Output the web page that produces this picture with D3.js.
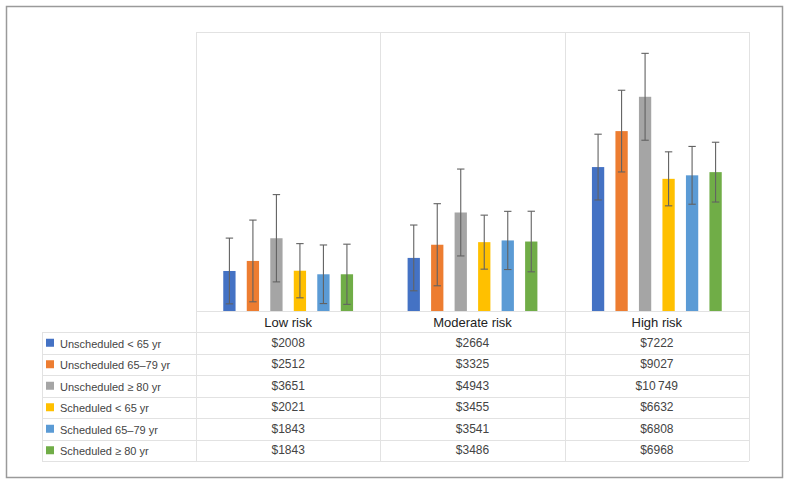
<!DOCTYPE html>
<html>
<head>
<meta charset="utf-8">
<script src="https://cdn.jsdelivr.net/npm/d3@7"></script>
<style>
  body { margin: 0; background: #fff; }
  svg { display: block; font-family: "Liberation Sans", Arial, sans-serif; }
</style>
</head>
<body>
<svg id="chart" width="791" height="485"></svg>
<script>
// ── Data ─────────────────────────────────────────────────────────────────────
const categories = ["Low risk", "Moderate risk", "High risk"];
const seriesNames = [
  "Unscheduled < 65 yr", "Unscheduled 65–79 yr", "Unscheduled ≥ 80 yr",
  "Scheduled < 65 yr", "Scheduled 65–79 yr", "Scheduled ≥ 80 yr"
];
const seriesColors = ["#4472C4", "#ED7D31", "#A5A5A5", "#FFC000", "#5B9BD5", "#70AD47"];
// mean cost per series, one value per category
const costs = [
  [2008, 2664, 7222],
  [2512, 3325, 9027],
  [3651, 4943, 10749],
  [2021, 3455, 6632],
  [1843, 3541, 6808],
  [1843, 3486, 6968]
];
// error bar half-widths
const errors = [
  [1650, 1650, 1650],
  [2050, 2060, 2050],
  [2190, 2180, 2180],
  [1360, 1355, 1355],
  [1470, 1460, 1450],
  [1510, 1520, 1500]
];
const costLabels = [
  ["$2008", "$2664", "$7222"],
  ["$2512", "$3325", "$9027"],
  ["$3651", "$4943", "$10\u2009749"],
  ["$2021", "$3455", "$6632"],
  ["$1843", "$3541", "$6808"],
  ["$1843", "$3486", "$6968"]
];
const yMax = 14000;

// ── Layout ───────────────────────────────────────────────────────────────────
const svg = d3.select("#chart");
const plot = { left: 196, right: 749, top: 32, bottom: 311 };
const tableLeft = 42, rowH = 21.5, headerH = 21;
const gridColor = "#e2e2e2";

svg.append("rect")
  .attr("x", 6.5).attr("y", 6.5).attr("width", 776).attr("height", 471)
  .attr("fill", "none").attr("stroke", "#9a9a9a").attr("stroke-width", 1.5);

const x0 = d3.scaleBand().domain(categories).range([plot.left, plot.right]);
const x1 = d3.scaleBand().domain(d3.range(seriesNames.length))
  .range([0, x0.bandwidth()]).paddingInner(0.477).paddingOuter(1.16);
const y = d3.scaleLinear().domain([0, yMax]).range([plot.bottom, plot.top]);

const tableBottom = plot.bottom + headerH + rowH * seriesNames.length;

// gridlines: plot frame and column dividers
const grid = svg.append("g").attr("stroke", gridColor).attr("stroke-width", 1).attr("fill", "none");
grid.append("line")
  .attr("x1", plot.left).attr("x2", plot.right)
  .attr("y1", plot.top + 0.5).attr("y2", plot.top + 0.5);
const colEdges = categories.map(c => x0(c)).concat([plot.right]);
colEdges.forEach(cx => {
  grid.append("line")
    .attr("x1", Math.round(cx) + 0.5).attr("x2", Math.round(cx) + 0.5)
    .attr("y1", plot.top).attr("y2", tableBottom);
});
// horizontal table lines
grid.append("line")
  .attr("x1", plot.left).attr("x2", plot.right)
  .attr("y1", plot.bottom + 0.5).attr("y2", plot.bottom + 0.5);
d3.range(seriesNames.length + 1).forEach(i => {
  const ly = Math.round(plot.bottom + headerH + i * rowH) + 0.5;
  grid.append("line")
    .attr("x1", tableLeft).attr("x2", plot.right)
    .attr("y1", ly).attr("y2", ly);
});
grid.append("line")
  .attr("x1", tableLeft + 0.5).attr("x2", tableLeft + 0.5)
  .attr("y1", plot.bottom + headerH).attr("y2", tableBottom);

// ── Bars ─────────────────────────────────────────────────────────────────────
const cells = [];
costs.forEach((row, si) => row.forEach((v, ci) => {
  cells.push({ si, ci, v, err: errors[si][ci] });
}));

svg.append("g").selectAll("rect")
  .data(cells).join("rect")
  .attr("x", d => x0(categories[d.ci]) + x1(d.si))
  .attr("y", d => y(d.v))
  .attr("width", x1.bandwidth())
  .attr("height", d => y(0) - y(d.v))
  .attr("fill", d => seriesColors[d.si]);

// error bars
const eb = svg.append("g").attr("stroke", "#626262").attr("stroke-width", 1.1);
cells.forEach(d => {
  const cx = x0(categories[d.ci]) + x1(d.si) + x1.bandwidth() / 2;
  const hi = y(d.v + d.err), lo = y(d.v - d.err);
  eb.append("line").attr("x1", cx).attr("x2", cx).attr("y1", hi).attr("y2", lo);
  eb.append("line").attr("x1", cx - 3.7).attr("x2", cx + 3.7).attr("y1", hi).attr("y2", hi);
  eb.append("line").attr("x1", cx - 3.7).attr("x2", cx + 3.7).attr("y1", lo).attr("y2", lo);
});

// ── Table ────────────────────────────────────────────────────────────────────
svg.append("g").selectAll("text")
  .data(categories).join("text")
  .attr("x", c => x0(c) + x0.bandwidth() / 2)
  .attr("y", plot.bottom + headerH / 2 + 1)
  .attr("text-anchor", "middle").attr("dominant-baseline", "central")
  .attr("font-size", 13).attr("fill", "#222")
  .text(c => c);

const rows = svg.append("g").selectAll("g")
  .data(seriesNames).join("g")
  .attr("transform", (s, i) => `translate(0,${plot.bottom + headerH + i * rowH + rowH / 2})`);

rows.append("rect")
  .attr("x", 46).attr("y", -4).attr("width", 8).attr("height", 8)
  .attr("fill", (s, i) => seriesColors[i]);
rows.append("text")
  .attr("x", 60).attr("y", 1)
  .attr("dominant-baseline", "central")
  .attr("font-size", 11).attr("fill", "#444")
  .text(s => s);
rows.each(function(s, si) {
  d3.select(this).selectAll("text.val")
    .data(costLabels[si]).join("text")
    .attr("class", "val")
    .attr("x", (t, ci) => x0(categories[ci]) + x0.bandwidth() / 2)
    .attr("y", 0)
    .attr("text-anchor", "middle").attr("dominant-baseline", "central")
    .attr("font-size", 12).attr("fill", "#444")
    .text(t => t);
});
</script>
</body>
</html>
